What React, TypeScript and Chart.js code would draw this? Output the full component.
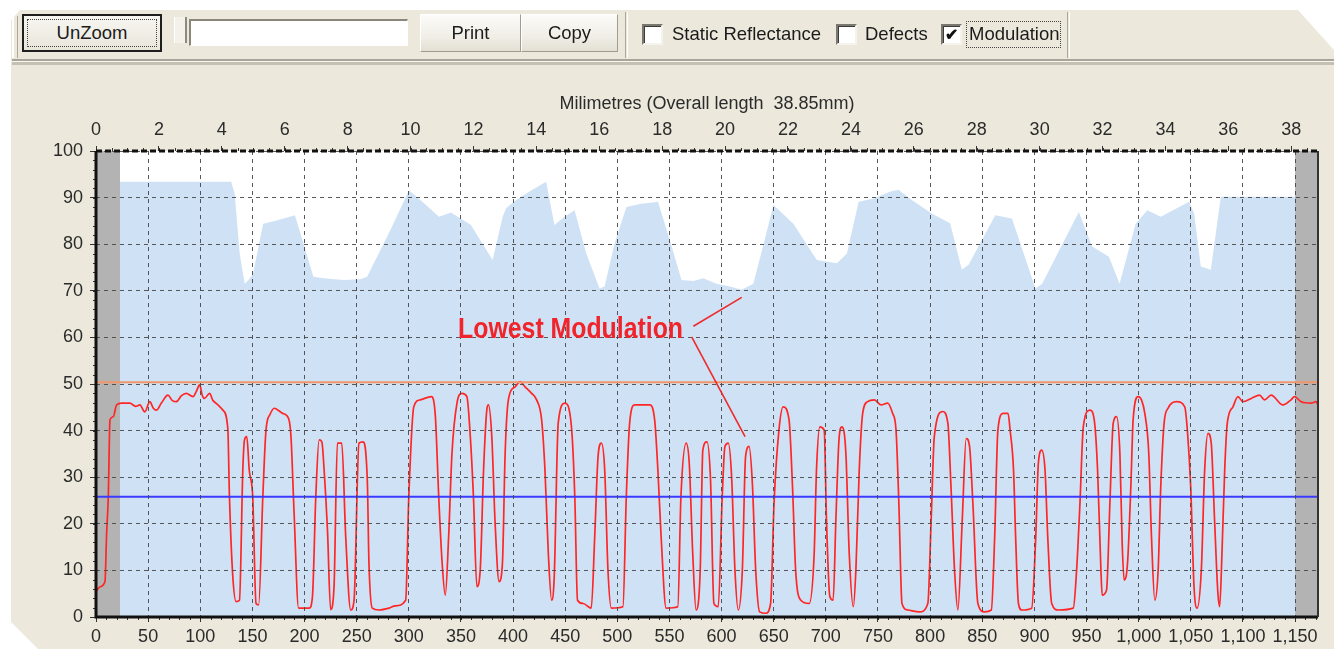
import React, { useEffect, useRef } from "react";
import { Chart, registerables } from "chart.js";

Chart.register(...registerables);

// ---------- DATA ----------
const xMax = 1172; // bottom axis end (scan units)
const mmMax = 38.85; // top axis end (millimetres)
const xTickStep = 50;
const mmTickStep = 2;
const yTickStep = 10;

const upperThreshold = 50.4;
const lowerThreshold = 25.8;

const quietZoneLeft = [0, 23];
const quietZoneRight = [1150, 1172];

// modulation trace [x, value]
const modulation: [number, number][] = [
  [0, 5.5], [4, 6.5], [8.6, 7.6], [10.2, 18], [11.8, 25.8], [13.4, 42.3], [16.6, 43], [19.7, 45.5],
  [24.5, 45.9], [32.5, 45.9], [38, 45.2], [42, 45.5], [46.8, 44], [51.6, 46.2], [55, 44.8], [58, 44.4],
  [62.7, 45.9], [69, 47.6], [73, 46.5], [77, 46.2], [82, 47.5], [86.6, 48], [93, 47.3], [96, 48.3],
  [99.4, 49.8], [102, 47.5], [104, 46.9], [109, 48], [112, 46.5], [115, 45.9], [121.7, 44.4],
  [126.4, 40.5], [128, 25.8], [131.2, 8.7], [134.4, 3.3], [137.6, 3.6], [140.8, 31.5], [142.4, 38],
  [144.6, 38.7], [147, 31.5], [150.3, 25.8], [153.5, 2.9], [156, 2.6], [160, 25.8], [163, 40],
  [167, 43.5], [171, 44.8], [179, 43.7], [184.7, 42.6], [187, 38.7], [190, 22.2], [194.3, 1.9],
  [204.5, 1.9], [207.6, 4.4], [210.8, 25.8], [214, 38], [216.6, 37.6], [218.8, 31.5], [222, 18.7],
  [225, 1.6], [228.3, 6.5], [231.5, 37.3], [235.7, 37.3], [239.5, 17.2], [244.3, 1.5], [247.5, 3.6],
  [252.2, 37.3], [256, 37.6], [260.2, 29.4], [261.8, 11.5], [265, 1.9], [271.3, 1.5], [281, 1.9],
  [287, 2.4], [297, 3.6], [300, 25.8], [304.8, 45.1], [311, 46.6], [321.7, 47.3], [325.5, 43],
  [328.7, 25.8], [331.8, 12.2], [335, 4.7], [338.2, 17.2], [341.4, 35.1], [346.2, 45.9], [351, 48],
  [355.7, 47.3], [359, 38.7], [362, 25.8], [365.3, 6.5], [368.5, 10.1], [371.7, 31.5], [374.8, 44.4],
  [376.4, 45.5], [379.6, 38.7], [382.8, 20.1], [386.6, 7.6], [389.8, 11.5], [392.4, 35.1],
  [395.5, 46.6], [402, 49.4], [406.7, 50.5], [411.5, 49.4], [417.8, 48], [422.6, 46.6], [427.4, 42.3],
  [430.6, 31.5], [433.8, 13.7], [437, 3.6], [439.5, 8.7], [443.3, 41.6], [449.7, 45.9], [456, 40.8],
  [459.2, 25.8], [461.8, 3.6], [467.2, 2.9], [475, 1.9], [478.3, 17.2], [481.5, 34.4], [484.7, 37.3],
  [487.9, 31.5], [491, 10.1], [494.3, 1.9], [505.4, 2.2], [508.6, 25.8], [511.8, 41.6], [516.6, 45.5],
  [531, 45.5], [535.8, 42.3], [538.9, 31.5], [542, 17.2], [546.8, 1.9], [558, 2.2], [561, 25.8],
  [566, 37.3], [569, 32.9], [572.3, 13.7], [575.5, 1.5], [579.5, 10.1], [582, 35.8], [586, 37.6],
  [589.4, 29.4], [592.6, 2.9], [596.8, 2.2], [600.6, 25.8], [603.2, 36.6], [606.4, 37.3],
  [609.6, 30.1], [612.8, 10.1], [616, 1.5], [619.9, 10.1], [623, 34.4], [626.3, 36.6], [629.5, 28.7],
  [632.7, 10.1], [636.5, 1.1], [642.3, 0.8], [647, 2.9], [650.3, 24.4], [655, 40.1], [659, 45.1],
  [664.7, 42.3], [668, 28], [671, 10.1], [676, 3.6], [684, 2.9], [688.8, 13.7], [691, 31.5],
  [694.2, 40.8], [698.4, 40.1], [700.6, 20.8], [703.8, 4.4], [707, 3.6], [709.6, 20.8], [712.8, 38.7],
  [715.4, 40.8], [719.2, 35.1], [722.4, 13.7], [726.3, 2.2], [728.8, 10.1], [732, 31.5], [735.3, 43.7],
  [740, 46.2], [746.5, 46.6], [752.9, 45.5], [759.3, 45.9], [764, 43.7], [767.3, 40.1], [770, 24.4],
  [773, 2.9], [778.5, 1.5], [789.7, 1.1], [797.8, 2.9], [801, 20.8], [804, 38.7], [812, 44.1],
  [817, 41.6], [820, 28], [823.4, 10.1], [826.6, 1.5], [830.8, 20.8], [834.6, 38.3], [837.8, 36.6],
  [841, 24.4], [845.8, 2.9], [852.2, 1.1], [858.7, 1.5], [861.9, 17.2], [865, 40.1], [869.9, 43.7],
  [874.7, 43.7], [876.7, 40.1], [880, 31.5], [882, 17.2], [884.7, 2.9], [888, 1.5], [897.4, 1.9],
  [901.3, 17.2], [903.8, 33], [907, 35.8], [910.2, 31.5], [912.8, 17.2], [916.6, 2.9], [923, 1.5],
  [937.3, 1.9], [940.5, 10.1], [943.7, 24.4], [946.9, 40.8], [953.3, 44.4], [957.4, 42.3],
  [960.6, 31.5], [963.8, 10.1], [965, 4.7], [969.2, 5.8], [972.4, 24.4], [975.6, 41.6], [978.8, 43],
  [982, 35.1], [984.2, 15.8], [986.1, 7.9], [989.3, 11.5], [992.5, 28], [994.7, 42.3], [999.5, 47.3],
  [1002.7, 46.6], [1005.9, 43.7], [1009.7, 35.1], [1012.3, 17.2], [1015.5, 3.6], [1018.7, 10.1],
  [1021.2, 28], [1024.4, 41.6], [1028.2, 44.8], [1036.2, 46.2], [1044.2, 45.1], [1046.7, 40.1],
  [1049.9, 28], [1053.1, 6.5], [1056, 1.9], [1060.1, 10.1], [1063.3, 31.5], [1066.5, 39.4],
  [1069.6, 37.3], [1072.8, 20.8], [1076, 5.1], [1077.7, 2.2], [1079.9, 13.7], [1082.5, 31.5],
  [1085, 41.6], [1090.4, 45.1], [1095.2, 47.3], [1100, 46.2], [1108, 46.9], [1116, 47.6],
  [1120.7, 46.6], [1127, 47.6], [1138.3, 45.5], [1146.2, 46.6], [1149.4, 47.3], [1155.8, 46.2],
  [1165.4, 45.9], [1170, 46.2], [1172, 45.5],
];

// upper envelope of the light-blue area [x, value]
const reflectance: [number, number][] = [
  [23, 93.4], [129.7, 93.4], [133, 90.9], [137.8, 78], [142.6, 71.5], [145.8, 72.2], [150.6, 73.6],
  [160.3, 84.4], [173.2, 85.1], [190.8, 86.2], [198.9, 80.2], [208.5, 73], [218.2, 72.7],
  [237.5, 72.3], [253.5, 72.5], [260, 73], [282.5, 83.1], [300.2, 91.6], [314.6, 88.8], [329, 85.9],
  [340.4, 86.8], [359.6, 84.1], [380.4, 76.6], [390, 85.9], [393.3, 87.7], [402.9, 89.5],
  [415.7, 91.3], [431.7, 93.4], [439.7, 84.1], [449.4, 85.9], [459, 87.3], [470.2, 78], [483, 70.5],
  [487.8, 70.9], [497.4, 80.2], [508.7, 88], [521.5, 88.6], [539, 89.1], [550.3, 80.9],
  [561.5, 72.3], [572.8, 72.1], [582.4, 72.7], [595.2, 71.5], [608, 70.9], [619.2, 70.2],
  [630.4, 71.5], [640, 79.8], [649.7, 88.4], [668.9, 84.4], [691.3, 76.6], [710.6, 75.9],
  [720.2, 78], [731.4, 89.1], [745.8, 89.8], [761.9, 91.3], [769.6, 91.7], [782.4, 89.5],
  [801.6, 86.6], [819.2, 84.5], [830.4, 74.5], [836.9, 75.6], [862.5, 86.2], [878.5, 85.5],
  [901, 70.5], [907.4, 71.5], [942.6, 86.9], [955.4, 79.5], [971.5, 77.3], [981.7, 71.5],
  [997.1, 84.4], [1008.3, 87.3], [1021.2, 85.9], [1048.4, 89.1], [1053.2, 86.6], [1059.6, 75.2],
  [1069.2, 74.5], [1078.8, 90.2], [1150, 90.2],
];

// annotation (data coordinates)
const annotationText = "Lowest Modulation";
const annotationTextSpan = [347.3, 563]; // x from .. to
const annotationBaseline = 59.9;
const annotationLines: [number, number][][] = [
  [[572.9, 62.4], [619.3, 68.6]],
  [[571.3, 60.1], [622.5, 38.7]],
];

const topAxisTitle = "Milimetres (Overall length  38.85mm)";

// ---------- STYLE ----------
const FONT = '"Liberation Sans", Arial, sans-serif';
const BEIGE = "#ece9dc";

const pts = (a: [number, number][]) => a.map(([x, y]) => ({ x, y }));

const decorPlugin = {
  id: "decor",
  beforeDraw(chart: any) {
    const { ctx, chartArea: a } = chart;
    ctx.save();
    ctx.fillStyle = "#ffffff";
    ctx.fillRect(a.left, a.top, a.right - a.left, a.bottom - a.top);
    ctx.restore();
  },
  afterDraw(chart: any) {
    const { ctx, chartArea: a, scales } = chart;
    const x = scales.x, x2 = scales.x2, y = scales.y;
    ctx.save();
    // minor ticks
    ctx.strokeStyle = "#333";
    ctx.lineWidth = 1;
    ctx.beginPath();
    for (let v = 0; v <= xMax; v += 10) {
      const px = Math.round(x.getPixelForValue(v)) + 0.5;
      ctx.moveTo(px, a.bottom);
      ctx.lineTo(px, a.bottom + 3);
    }
    for (let v = 0; v <= mmMax; v += 0.5) {
      const px = Math.round(x2.getPixelForValue(v)) + 0.5;
      ctx.moveTo(px, a.top);
      ctx.lineTo(px, a.top - 3);
    }
    for (let v = 0; v <= 100; v += 2) {
      const py = Math.round(y.getPixelForValue(v)) + 0.5;
      ctx.moveTo(a.left, py);
      ctx.lineTo(a.left - 3, py);
    }
    ctx.stroke();
    // frame
    ctx.strokeStyle = "#111";
    ctx.lineWidth = 3;
    ctx.beginPath();
    ctx.moveTo(a.left, a.top);
    ctx.lineTo(a.left, a.bottom);
    ctx.lineTo(a.right, a.bottom);
    ctx.stroke();
    ctx.lineWidth = 2;
    ctx.strokeStyle = "#333";
    ctx.beginPath();
    ctx.moveTo(a.right, a.top);
    ctx.lineTo(a.right, a.bottom);
    ctx.stroke();
    ctx.lineWidth = 3;
    ctx.strokeStyle = "#111";
    ctx.setLineDash([6, 3]);
    ctx.beginPath();
    ctx.moveTo(a.left, a.top);
    ctx.lineTo(a.right, a.top);
    ctx.stroke();
    ctx.setLineDash([]);

    // annotation
    ctx.strokeStyle = "#ee2a2a";
    ctx.lineWidth = 1.6;
    for (const [p, q] of annotationLines) {
      ctx.beginPath();
      ctx.moveTo(x.getPixelForValue(p[0]), y.getPixelForValue(p[1]));
      ctx.lineTo(x.getPixelForValue(q[0]), y.getPixelForValue(q[1]));
      ctx.stroke();
    }
    const l = x.getPixelForValue(annotationTextSpan[0]);
    const r = x.getPixelForValue(annotationTextSpan[1]);
    const by = y.getPixelForValue(annotationBaseline);
    ctx.font = `bold 29px ${FONT}`;
    const w = ctx.measureText(annotationText).width;
    ctx.translate(l, by);
    ctx.scale((r - l) / w, 1);
    ctx.fillStyle = "#f0242a";
    ctx.textBaseline = "alphabetic";
    ctx.textAlign = "left";
    ctx.fillText(annotationText, 0, 0);
    ctx.restore();
  },
};

function ChartCanvas() {
  const ref = useRef<HTMLCanvasElement | null>(null);
  useEffect(() => {
    if (!ref.current) return;
    const tickFont = { family: FONT, size: 18 };
    const chart = new Chart(ref.current, {
      type: "line",
      data: {
        datasets: [
          {
            label: "Lower",
            data: [{ x: 0, y: lowerThreshold }, { x: xMax, y: lowerThreshold }],
            borderColor: "#3b3bff",
            borderWidth: 2.2,
            pointRadius: 0,
            fill: false,
            order: 1,
          },
          {
            label: "Upper",
            data: [{ x: 0, y: upperThreshold }, { x: xMax, y: upperThreshold }],
            borderColor: "#f2966a",
            borderWidth: 2,
            pointRadius: 0,
            fill: false,
            order: 2,
          },
          {
            label: "Modulation",
            data: pts(modulation),
            borderColor: "#ff2626",
            borderWidth: 1.7,
            pointRadius: 0,
            cubicInterpolationMode: "monotone",
            fill: false,
            order: 3,
          },
          {
            label: "Reflectance",
            data: pts(reflectance),
            borderColor: "rgba(0,0,0,0)",
            borderWidth: 1,
            backgroundColor: "#cfe2f5",
            pointRadius: 0,
            fill: "origin",
            order: 9,
          },
          {
            label: "QuietLeft",
            data: quietZoneLeft.map((v) => ({ x: v, y: 100 })),
            borderColor: "rgba(0,0,0,0)",
            borderWidth: 1,
            backgroundColor: "#b4b3b3",
            pointRadius: 0,
            fill: "origin",
            order: 10,
          },
          {
            label: "QuietRight",
            data: quietZoneRight.map((v) => ({ x: v, y: 100 })),
            borderColor: "rgba(0,0,0,0)",
            borderWidth: 1,
            backgroundColor: "#b4b3b3",
            pointRadius: 0,
            fill: "origin",
            order: 10,
          },
        ],
      },
      options: {
        responsive: false,
        animation: false,
        events: [],
        layout: { padding: { left: 0, right: 16, top: 0, bottom: 0 } },
        plugins: { legend: { display: false }, tooltip: { enabled: false } },
        scales: {
          x: {
            type: "linear",
            position: "bottom",
            min: 0,
            max: xMax,
            afterFit: (s: any) => {
              s.height = 32;
            },
            ticks: {
              stepSize: xTickStep,
              includeBounds: false,
              autoSkip: false,
              maxRotation: 0,
              padding: 4,
              font: tickFont,
              color: "#2b2b2b",
              callback: (v: any) => Number(v).toLocaleString("en-US"),
            },
            grid: {
              color: "rgba(70,70,70,0.9)",
              lineWidth: 1,
              z: 1,
              tickLength: 5,
              tickColor: "#333",
            },
            border: { display: false, dash: [4, 4] },
          },
          x2: {
            type: "linear",
            position: "top",
            min: 0,
            max: mmMax,
            afterFit: (s: any) => {
              s.height = 151;
            },
            ticks: {
              stepSize: mmTickStep,
              includeBounds: false,
              autoSkip: false,
              maxRotation: 0,
              padding: 5,
              font: tickFont,
              color: "#2b2b2b",
            },
            grid: { drawOnChartArea: false, tickLength: 5, tickColor: "#333" },
            border: { display: false },
            title: {
              display: true,
              text: topAxisTitle,
              color: "#2b2b2b",
              font: { family: FONT, size: 18 },
              padding: { top: 93, bottom: 0 },
            },
          },
          y: {
            type: "linear",
            min: 0,
            max: 100,
            afterFit: (s: any) => {
              s.width = 96;
            },
            ticks: {
              stepSize: yTickStep,
              padding: 7,
              font: tickFont,
              color: "#2b2b2b",
            },
            grid: {
              color: "rgba(70,70,70,0.9)",
              lineWidth: 1,
              z: 1,
              tickLength: 6,
              tickColor: "#333",
            },
            border: { display: false, dash: [4, 4] },
          },
        },
      },
      plugins: [decorPlugin],
    } as any);
    return () => chart.destroy();
  }, []);
  return (
    <canvas
      ref={ref}
      width={1334}
      height={649}
      style={{ position: "absolute", left: 0, top: 0, width: 1334, height: 649 }}
    />
  );
}

const uiText: React.CSSProperties = {
  position: "absolute",
  fontFamily: FONT,
  fontSize: 18.5,
  color: "#1b1b1b",
  lineHeight: "20px",
  whiteSpace: "nowrap",
};

function Checkbox({ left, checked }: { left: number; checked?: boolean }) {
  return (
    <div
      style={{
        position: "absolute",
        left,
        top: 24,
        width: 17,
        height: 17,
        background: "#fff",
        borderTop: "2px solid #7a786e",
        borderLeft: "2px solid #7a786e",
        borderBottom: "2px solid #f4f3ee",
        borderRight: "2px solid #f4f3ee",
        boxShadow: "inset 1px 1px 0 #3c3c3c",
        fontFamily: FONT,
        fontSize: 16,
        fontWeight: "bold",
        lineHeight: "17px",
        textAlign: "center",
        color: "#111",
      }}
    >
      {checked ? "✔" : ""}
    </div>
  );
}

function Button({ left, width, label }: { left: number; width: number; label: string }) {
  return (
    <div
      style={{
        position: "absolute",
        left,
        top: 14,
        width,
        height: 38,
        boxSizing: "border-box",
        background: "linear-gradient(#fbfbf8, #f0eee6 60%, #e3e0d3)",
        borderTop: "1px solid #ffffff",
        borderLeft: "1px solid #ffffff",
        borderRight: "1px solid #a09d90",
        borderBottom: "1px solid #a09d90",
        display: "flex",
        alignItems: "center",
        justifyContent: "center",
        fontFamily: FONT,
        fontSize: 18.5,
        color: "#1b1b1b",
      }}
    >
      {label}
    </div>
  );
}

function Toolbar() {
  return (
    <div style={{ position: "absolute", left: 0, top: 0, width: 1334, height: 70 }}>
      {/* left grip */}
      <div
        style={{
          position: "absolute",
          left: 12,
          top: 16,
          width: 3,
          height: 42,
          borderLeft: "2px solid #ffffff",
          borderRight: "1px solid #aca899",
        }}
      />
      {/* UnZoom default button */}
      <div
        style={{
          position: "absolute",
          left: 22,
          top: 14,
          width: 140,
          height: 38,
          boxSizing: "border-box",
          border: "2px solid #1e1e1e",
          background: "linear-gradient(#f7f6f1, #e9e6da)",
        }}
      >
        <div
          style={{
            position: "absolute",
            left: 3,
            top: 3,
            right: 3,
            bottom: 3,
            border: "1px dotted #444",
            display: "flex",
            alignItems: "center",
            justifyContent: "center",
            fontFamily: FONT,
            fontSize: 18.5,
            color: "#1b1b1b",
          }}
        >
          UnZoom
        </div>
      </div>
      {/* slider thumb */}
      <div
        style={{
          position: "absolute",
          left: 174,
          top: 17,
          width: 10,
          height: 26,
          background: "#f3f1ea",
          borderLeft: "1px solid #fff",
          borderRight: "2px solid #8c8a7e",
          clipPath: "polygon(0 0, 100% 0, 100% 100%, 50% 130%, 0 100%)",
        }}
      />
      {/* text field */}
      <div
        style={{
          position: "absolute",
          left: 189,
          top: 19,
          width: 216,
          height: 24,
          background: "#fff",
          borderTop: "2px solid #8a877a",
          borderLeft: "2px solid #8a877a",
          borderBottom: "1px solid #fff",
          borderRight: "1px solid #fff",
        }}
      />
      <Button left={420} width={101} label="Print" />
      <Button left={521} width={97} label="Copy" />
      {/* separator */}
      <div
        style={{
          position: "absolute",
          left: 625,
          top: 12,
          width: 1,
          height: 46,
          borderLeft: "1px solid #aca899",
          borderRight: "1px solid #fff",
        }}
      />
      <Checkbox left={642} />
      <div style={{ ...uiText, left: 672, top: 24 }}>Static Reflectance</div>
      <Checkbox left={836} />
      <div style={{ ...uiText, left: 865, top: 24 }}>Defects</div>
      <Checkbox left={941} checked />
      <div
        style={{
          position: "absolute",
          left: 966,
          top: 21,
          width: 93,
          height: 25,
          border: "1px dotted #444",
        }}
      />
      <div style={{ ...uiText, left: 969, top: 24 }}>Modulation</div>
      <div
        style={{
          position: "absolute",
          left: 1067,
          top: 12,
          width: 1,
          height: 46,
          borderLeft: "1px solid #aca899",
          borderRight: "1px solid #fff",
        }}
      />
      {/* horizontal separator under toolbar */}
      <div style={{ position: "absolute", left: 12, top: 59, width: 1322, height: 2, background: "#a8a598" }} />
      <div style={{ position: "absolute", left: 12, top: 61, width: 1322, height: 1, background: "#f8f7f2" }} />
      <div style={{ position: "absolute", left: 12, top: 62, width: 1322, height: 3, background: "#c4c1b3" }} />
    </div>
  );
}

export default function App() {
  useEffect(() => {
    document.body.style.margin = "0";
  }, []);
  return (
    <div
      style={{
        position: "fixed",
        left: 0,
        top: 0,
        width: 1334,
        height: 649,
        background: "#ffffff",
        overflow: "hidden",
      }}
    >
      <div
        style={{
          position: "absolute",
          left: 0,
          top: 0,
          width: 1334,
          height: 649,
          background: BEIGE,
          clipPath:
            "polygon(11px 20px, 20px 10px, 1298px 10px, 1334px 50px, 1334px 649px, 38px 649px, 11px 622px)",
        }}
      />
      <ChartCanvas />
      <Toolbar />
    </div>
  );
}
